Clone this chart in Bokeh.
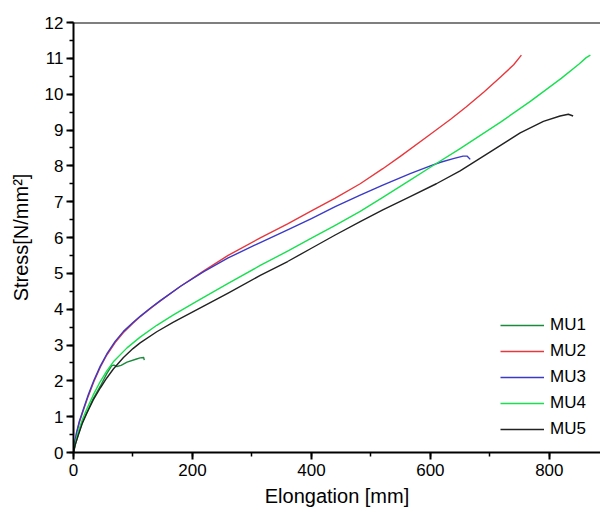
from bokeh.plotting import figure
from bokeh.models import Range1d, Span, Legend, LegendItem, SingleIntervalTicker
from bokeh.embed import file_html
from bokeh.resources import INLINE

# Elongation [mm] / Stress [N/mm^2]
mu1_x = [0, 3, 8, 15, 22, 33, 45, 56, 64, 68, 73, 80, 90, 106, 112, 118, 119]
mu1_y = [0, 0.22, 0.5, 0.85, 1.1, 1.5, 1.85, 2.2, 2.42, 2.44, 2.4, 2.43, 2.52, 2.61, 2.64, 2.65, 2.58]

mu2_x = [0, 2, 5, 10, 17, 25, 34, 45, 56, 70, 84, 100, 112, 130, 146, 180, 219, 260, 314,
         360, 400, 440, 482, 520, 550, 600, 634, 660, 690, 718, 740, 753]
mu2_y = [0, 0.25, 0.52, 0.85, 1.2, 1.58, 1.97, 2.38, 2.72, 3.07, 3.35, 3.61, 3.79, 4.03, 4.23, 4.64, 5.07, 5.5, 5.99,
         6.38, 6.74, 7.1, 7.5, 7.92, 8.27, 8.88, 9.3, 9.64, 10.06, 10.48, 10.82, 11.09]

mu3_x = [0, 2, 5, 10, 17, 25, 34, 45, 56, 70, 84, 100, 112, 130, 146, 180, 219, 260, 314,
         360, 400, 440, 482, 520, 566, 600, 617, 640, 655, 662, 667]
mu3_y = [0, 0.27, 0.55, 0.88, 1.23, 1.62, 2.0, 2.41, 2.75, 3.1, 3.38, 3.63, 3.8, 4.04, 4.24, 4.64, 5.05, 5.43, 5.86,
         6.21, 6.53, 6.86, 7.18, 7.46, 7.78, 8.0, 8.1, 8.21, 8.27, 8.27, 8.18]

mu4_x = [0, 3, 8, 15, 22, 33, 45, 56, 67, 90, 112, 140, 168, 207, 260, 314, 360, 400, 440,
         482, 520, 566, 600, 650, 718, 768, 820, 850, 862, 869]
mu4_y = [0, 0.27, 0.58, 0.92, 1.2, 1.6, 1.98, 2.28, 2.53, 2.92, 3.22, 3.55, 3.84, 4.22, 4.72, 5.22, 5.62, 5.98, 6.34,
         6.73, 7.12, 7.6, 7.96, 8.48, 9.22, 9.8, 10.44, 10.84, 11.02, 11.09]

mu5_x = [0, 3, 8, 15, 22, 33, 45, 56, 67, 84, 100, 112, 140, 168, 218, 260, 314, 360, 400, 440,
         482, 520, 566, 610, 650, 700, 751, 790, 818, 832, 840]
mu5_y = [0, 0.22, 0.48, 0.82, 1.08, 1.46, 1.8, 2.08, 2.33, 2.65, 2.9, 3.06, 3.37, 3.64, 4.08, 4.45, 4.94, 5.33, 5.7, 6.07,
         6.44, 6.77, 7.14, 7.5, 7.86, 8.38, 8.92, 9.24, 9.39, 9.44, 9.39]

names = ["MU1", "MU2", "MU3", "MU4", "MU5"]
colors = ["#1b8a3c", "#e8383d", "#3a3ac8", "#18e050", "#222222"]

FONT = "Liberation Sans"

p = figure(width=600, height=517, output_backend="svg", toolbar_location=None,
           x_range=Range1d(0, 886), y_range=Range1d(0, 12),
           min_border_left=73, min_border_top=22, min_border_bottom=65, min_border_right=0)
p.outline_line_color = None
p.grid.visible = False
p.background_fill_color = "white"

series = [(mu1_x, mu1_y), (mu2_x, mu2_y), (mu3_x, mu3_y), (mu4_x, mu4_y), (mu5_x, mu5_y)]
items = []
for (xs, ys), name, c in zip(series, names, colors):
    r = p.line(xs, ys, line_color=c, line_width=1.4, line_join="round")
    items.append(LegendItem(label=name, renderers=[r]))

p.add_layout(Span(location=12, dimension="width", line_color="black", line_width=2))

p.xaxis.ticker = SingleIntervalTicker(interval=200, num_minor_ticks=2)
p.yaxis.ticker = SingleIntervalTicker(interval=1, num_minor_ticks=2)
for ax in (p.xaxis, p.yaxis):
    ax.axis_line_width = 2
    ax.axis_line_color = "black"
    ax.major_tick_line_width = 2
    ax.minor_tick_line_width = 1.5
    ax.major_tick_in = 0
    ax.major_tick_out = 7
    ax.minor_tick_in = 0
    ax.minor_tick_out = 4
    ax.major_label_text_font = FONT
    ax.major_label_text_font_size = "17px"
    ax.major_label_text_color = "black"
    ax.axis_label_text_font = FONT
    ax.axis_label_text_font_size = "20px"
    ax.axis_label_text_font_style = "normal"
    ax.axis_label_text_color = "black"
p.xaxis.axis_label = "Elongation [mm]"
p.yaxis.axis_label = "Stress[N/mm²]"
p.xaxis.major_label_standoff = 4
p.yaxis.major_label_standoff = 3
p.xaxis.axis_label_standoff = 6
p.yaxis.axis_label_standoff = 10

legend = Legend(items=items, location=(427, 13), padding=0, margin=0,
                glyph_width=44, glyph_height=20, label_height=20, spacing=6,
                label_standoff=6, border_line_color=None, background_fill_alpha=0,
                label_text_font=FONT, label_text_font_size="17px", label_text_color="black")
p.add_layout(legend)

open("out.html", "w").write(file_html(p, INLINE))
